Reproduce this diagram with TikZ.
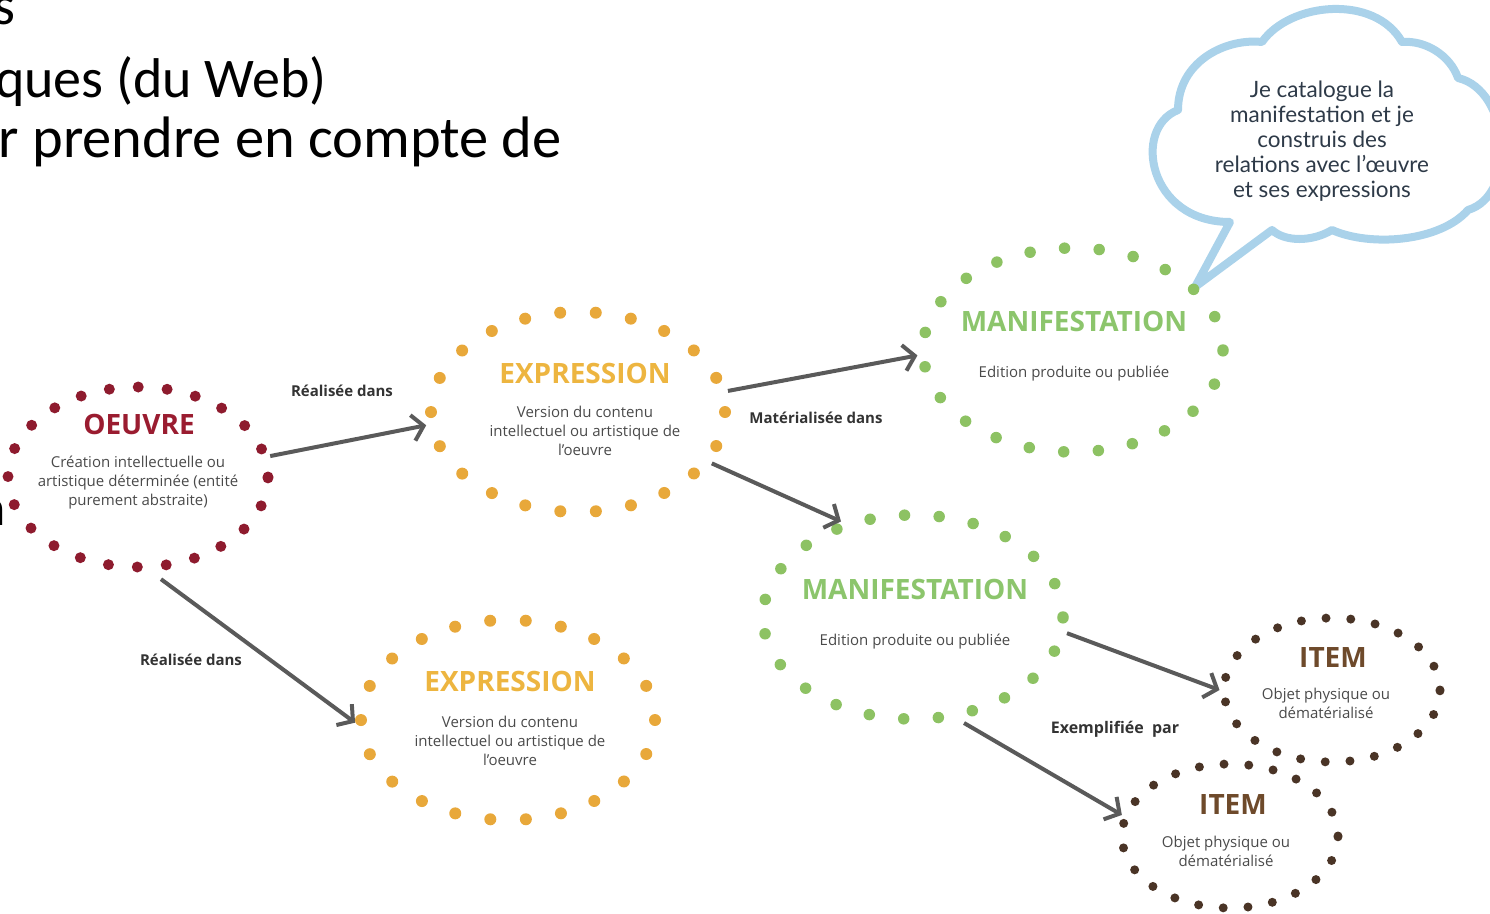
\documentclass[tikz,border=0pt]{standalone}
\usepackage{fontspec}
\setmainfont{Open Sans}
\newfontfamily\slidefont{Carlito}
\newfontfamily\handfont{Lato}
\usetikzlibrary{shapes.geometric,arrows.meta}
\definecolor{oeuvrered}{HTML}{8E1B2E}
\definecolor{oeuvretitle}{HTML}{9A1C30}
\definecolor{exprgold}{HTML}{E8A83A}
\definecolor{exprtitle}{HTML}{EDB540}
\definecolor{mangreen}{HTML}{8DC263}
\definecolor{mantitle}{HTML}{8CC56C}
\definecolor{itembrown}{HTML}{4A3426}
\definecolor{itemtitle}{HTML}{6E4A2B}
\definecolor{desc}{HTML}{4A4A4A}
\definecolor{arrowgray}{HTML}{5A5A5A}
\definecolor{cloudblue}{HTML}{AAD2EA}
\definecolor{cloudtext}{HTML}{2E3A48}
\begin{document}
\begin{tikzpicture}[x=1pt,y=-1pt,
  ring/.style={ellipse, inner sep=0pt, line cap=round},
  ringoeuvre/.style={ring, draw=oeuvrered, line width=11pt, dash pattern=on 0pt off 29pt, minimum width=260pt, minimum height=180pt},
  ringexpr/.style={ring, draw=exprgold, line width=12pt, dash pattern=on 0pt off 35.6pt, minimum width=294pt, minimum height=200pt},
  ringman/.style={ring, draw=mangreen, line width=11.5pt, dash pattern=on 0pt off 34.7pt, minimum width=300pt, minimum height=204pt},
  ringitem/.style={ring, draw=itembrown, line width=9pt, dash pattern=on 0pt off 24.8pt, minimum width=216pt, minimum height=144pt},
  title/.style={font=\fontsize{28}{33}\selectfont\bfseries, inner sep=0pt},
  desctext/.style={font=\fontsize{15}{19}\selectfont, text=desc, align=center, inner sep=0pt},
  rel/.style={font=\fontsize{15}{18}\selectfont\bfseries, text=black!80, inner sep=0pt},
  link/.style={draw=arrowgray, line width=4pt, -{Straight Barb[length=11pt,width=26pt,line width=4pt]}},
  slide/.style={font=\slidefont\fontsize{56}{66}\selectfont, inner sep=0pt, anchor=base east},
  cloudline/.style={draw=cloudblue, line width=8pt, fill=white, line join=round},
  hand/.style={font=\handfont\fontsize{22.5}{25}\selectfont, text=cloudtext, align=center, inner sep=0pt}
]
\useasboundingbox (0,0) rectangle (1490,913);
\clip (0,0) rectangle (1490,913);

% slide text, cut at the left edge
\node[slide] (s1) at (16,24) {s};
\node[slide] (s2) at (327,97) {ques (du Web)};
\node[slide, font=\slidefont\fontsize{58.5}{68}\selectfont] (s3) at (562,157) {r prendre en compte de};
\node[slide, font=\slidefont\fontsize{52}{62}\selectfont] (s4) at (6,525) {n};

% cloud
\coordinate (tip) at (1195,287);
\draw[cloudline] (tip) -- (1230,222)
  .. controls (1148,222) and (1132,128) .. (1178,110)
  .. controls (1178,62) and (1225,38) .. (1262,42)
  .. controls (1290,2) and (1375,-6) .. (1402,42)
  .. controls (1425,40) and (1450,55) .. (1458,78)
  .. controls (1510,90) and (1518,195) .. (1468,210)
  .. controls (1440,242) and (1370,247) .. (1332,230)
  .. controls (1312,242) and (1285,242) .. (1272,230)
  -- cycle;
\node[hand] (cloudtxt) at (1322,141) {Je catalogue la\\manifestation et je\\construis des\\relations avec l’œuvre\\et ses expressions};

% rings
\node[ringoeuvre] (oeuvre) at (138,477) {};
\node[ringexpr] (expr1) at (578,412) {};
\node[ringman] (man1) at (1073,350) {};
\node[ringman] (man2) at (913,617) {};
\node[ringexpr] (expr2) at (508,720) {};
\node[ringitem] (item1) at (1332,690) {};
\node[ringitem] (item2) at (1230,836) {};

% titles and descriptions
\node[title, text=oeuvretitle] (t1) at (139,424) {OEUVRE};
\node[desctext] (d1) at (138,483) {Création intellectuelle ou\\artistique déterminée (entité\\purement abstraite)};
\node[title, text=exprtitle] (t2) at (585,373) {EXPRESSION};
\node[desctext] (d2) at (585,431) {Version du contenu\\intellectuel ou artistique de\\l’oeuvre};
\node[title, text=mantitle] (t3) at (1074,321) {MANIFESTATION};
\node[desctext] (d3) at (1074,374) {Edition produite ou publiée};
\node[title, text=mantitle] (t4) at (915,589) {MANIFESTATION};
\node[desctext] (d4) at (915,642) {Edition produite ou publiée};
\node[title, text=exprtitle] (t5) at (510,681) {EXPRESSION};
\node[desctext] (d5) at (510,741) {Version du contenu\\intellectuel ou artistique de\\l’oeuvre};
\node[title, text=itemtitle] (t6) at (1333,657) {ITEM};
\node[desctext] (d6) at (1326,703) {Objet physique ou\\dématérialisé};
\node[title, text=itemtitle] (t7) at (1233,804) {ITEM};
\node[desctext] (d7) at (1226,851) {Objet physique ou\\dématérialisé};

% relation labels
\node[rel] (r1) at (342,391) {Réalisée dans};
\node[rel] (r2) at (816,418) {Matérialisée dans};
\node[rel] (r3) at (191,660) {Réalisée dans};
\node[rel, font=\fontsize{16}{19}\selectfont\bfseries] (r4) at (1115,729) {Exemplifiée\ \ par};

% connectors
\draw[link] (oeuvre.9.6) -- (expr1.185);
\draw[link] (expr1.8) -- (man1.182);
\draw[link] (expr1.-21.5) -- (man2.127);
\draw[link, shorten <=12pt] (oeuvre.-82) -- (expr2.181);
\draw[link] (man2.-6) -- (item1.180);
\draw[link, shorten <=6pt] (man2.-66) -- (item2.169);
\end{tikzpicture}
\end{document}
